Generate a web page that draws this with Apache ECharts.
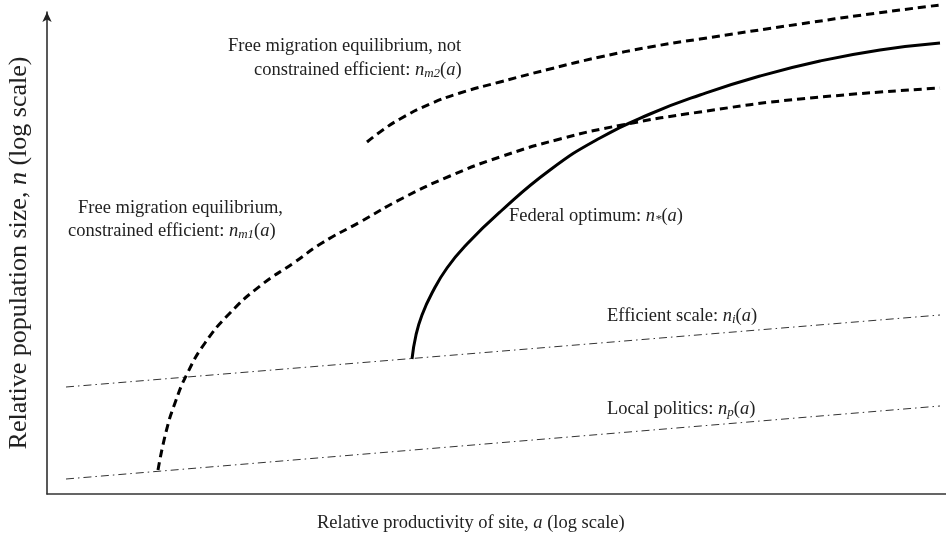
<!DOCTYPE html>
<html>
<head>
<meta charset="utf-8">
<script src="https://cdn.jsdelivr.net/npm/echarts@6/dist/echarts.min.js"></script>
<style>
  html, body { margin: 0; padding: 0; background: #fff; }
  #main { width: 946px; height: 539px; }
</style>
</head>
<body>
<div id="main"></div>
<script>
// values in arbitrary units (log a on x, log n on y)
var migration1 = [[111, 24], [119, 62], [128, 91], [140, 120], [158, 151], [183, 181], [213, 208],
  [248, 232], [275, 251], [313, 272], [356, 296], [403, 318], [453, 337], [513, 355], [575, 369],
  [653, 382], [753, 395], [893, 406]]
var migration2 = [[320, 352], [333, 362], [353, 375], [383, 390], [413, 401], [453, 412], [503, 425],
  [553, 437], [603, 447], [653, 455], [753, 470], [823, 480], [893, 489]]
var federal = [[365, 135], [369, 159], [375, 179], [385, 201], [400, 226], [420, 250], [453, 282],
  [503, 324], [553, 356], [603, 380], [653, 399], [713, 418], [773, 433], [833, 444], [893, 451]]
var efficient = [[19, 107], [893, 179]]
var politics = [[19, 15], [893, 88]]

var serif = 'Liberation Serif'
var fs = 18.5
var mathRich = {
  i: { fontFamily: serif, fontStyle: 'italic', fontSize: fs, color: '#222' },
  sub: { fontFamily: serif, fontStyle: 'italic', fontSize: 13, color: '#222', padding: [7, 0, 0, 0] },
  r: { fontFamily: serif, fontSize: fs, color: '#222' }
}
var bigRich = {
  i: { fontFamily: serif, fontStyle: 'italic', fontSize: 26, color: '#222' }
}

function label (x, y, text, align) {
  return {
    type: 'text',
    left: x,
    top: y,
    style: {
      text: text,
      rich: mathRich,
      fontFamily: serif,
      fontSize: fs,
      fill: '#222',
      align: align || 'left',
      verticalAlign: 'middle'
    }
  }
}

var curveStyle = { type: 'line', symbol: 'none', smooth: 0.5, clip: false }

var myChart = echarts.init(document.getElementById('main'))
var option = {
  backgroundColor: '#fff',
  animation: false,
  grid: { left: 47, right: 0, top: 12, bottom: 45 },
  xAxis: {
    type: 'value',
    min: 0,
    max: 899,
    axisLine: { show: true, lineStyle: { color: '#333', width: 1.5 } },
    axisTick: { show: false },
    axisLabel: { show: false },
    splitLine: { show: false }
  },
  yAxis: {
    type: 'value',
    min: 0,
    max: 482,
    axisLine: { show: true, symbol: ['none', 'arrow'], symbolSize: [7, 10], lineStyle: { color: '#222', width: 1.5 } },
    axisTick: { show: false },
    axisLabel: { show: false },
    splitLine: { show: false }
  },
  series: [
    {
      name: 'efficient', type: 'line', data: efficient, symbol: 'none', clip: false,
      lineStyle: { color: '#333', width: 1, type: [8, 4, 1.5, 4] }
    },
    {
      name: 'politics', type: 'line', data: politics, symbol: 'none', clip: false,
      lineStyle: { color: '#333', width: 1, type: [8, 4, 1.5, 4] }
    },
    Object.assign({ name: 'migration1', data: migration1, lineStyle: { color: '#000', width: 3, type: [8, 5] } }, curveStyle),
    Object.assign({ name: 'migration2', data: migration2, lineStyle: { color: '#000', width: 3, type: [8, 5] } }, curveStyle),
    Object.assign({ name: 'federal', data: federal, lineStyle: { color: '#000', width: 3 } }, curveStyle)
  ],
  graphic: [
    label(228, 37, 'Free migration equilibrium, not'),
    label(254, 61, 'constrained efficient: {i|n}{sub|m2}{r|(}{i|a}{r|)}'),
    label(78, 199, 'Free migration equilibrium,'),
    label(68, 222, 'constrained efficient: {i|n}{sub|m1}{r|(}{i|a}{r|)}'),
    label(509, 207, 'Federal optimum: {i|n}{sub|*}{r|(}{i|a}{r|)}'),
    label(607, 307, 'Efficient scale: {i|n}{sub|i}{r|(}{i|a}{r|)}'),
    label(607, 400, 'Local politics: {i|n}{sub|p}{r|(}{i|a}{r|)}'),
    label(317, 514, 'Relative productivity of site, {i|a} (log scale)'),
    {
      type: 'text',
      x: 19,
      y: 253,
      rotation: Math.PI / 2,
      style: {
        text: 'Relative population size, {i|n} (log scale)',
        rich: bigRich,
        fontFamily: serif,
        fontSize: 26,
        fill: '#222',
        align: 'center',
        verticalAlign: 'middle'
      }
    }
  ]
}
myChart.setOption(option)
</script>
</body>
</html>
